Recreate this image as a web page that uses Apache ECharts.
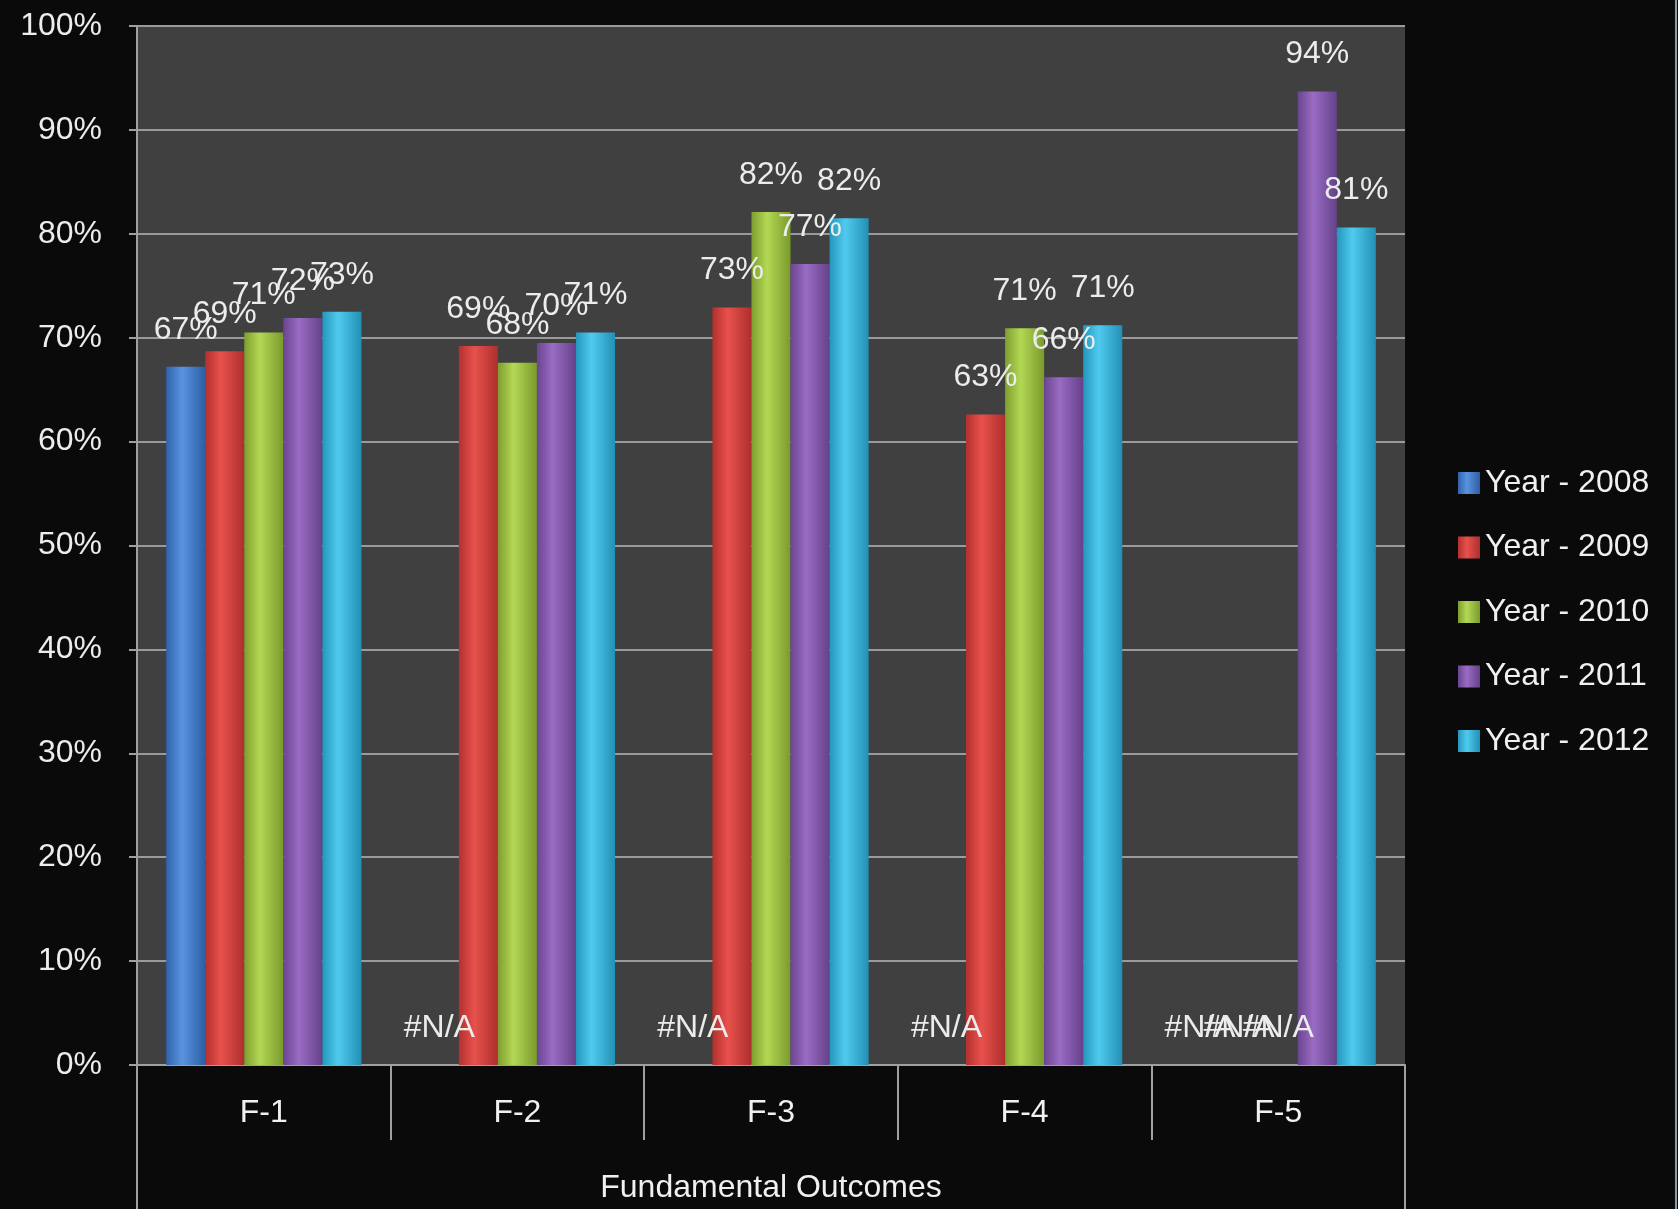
<!DOCTYPE html>
<html>
<head>
<meta charset="utf-8">
<style>
  html, body { margin: 0; padding: 0; background: #0a0a0a; }
  #chart { width: 1678px; height: 1209px; }
</style>
<script src="https://cdn.jsdelivr.net/npm/echarts@6/dist/echarts.min.js"></script>
</head>
<body>
<div id="chart"></div>
<script>
const categories = ['F-1', 'F-2', 'F-3', 'F-4', 'F-5'];
const seriesNames = ['Year - 2008', 'Year - 2009', 'Year - 2010', 'Year - 2011', 'Year - 2012'];
const year2008 = [67.2, null, null, null, null];
const year2009 = [68.7, 69.2, 72.9, 62.6, null];
const year2010 = [70.5, 67.6, 82.1, 70.9, null];
const year2011 = [71.9, 69.5, 77.1, 66.2, 93.7];
const year2012 = [72.5, 70.5, 81.5, 71.2, 80.6];
const yTicks = [0, 10, 20, 30, 40, 50, 60, 70, 80, 90, 100];
const naLabel = '#N/A';

const seriesValues = [year2008, year2009, year2010, year2011, year2012];
const palettes = [
  ['#2f62a8', '#5b93e0', '#2c5fa3'],
  ['#b3302e', '#e8514c', '#ad2f2d'],
  ['#7f9e2e', '#b3d855', '#7a9a2c'],
  ['#6a4590', '#9a6cc4', '#65418a'],
  ['#2596bb', '#4fcbef', '#2290b4']
];
const FONT = 'Liberation Sans, Arial, sans-serif';

const chart = echarts.init(document.getElementById('chart'));

const series = seriesValues.map((vals, i) => ({
  name: seriesNames[i],
  type: 'bar',
  barGap: '0%',
  barCategoryGap: '23%',
  itemStyle: {
    color: new echarts.graphic.LinearGradient(0, 0, 1, 0, [
      { offset: 0, color: palettes[i][0] },
      { offset: 0.4, color: palettes[i][1] },
      { offset: 1, color: palettes[i][2] }
    ])
  },
  label: {
    show: true,
    position: 'top',
    distance: 21,
    color: '#ececec',
    fontSize: 32,
    fontFamily: FONT,
    formatter: p => (p.data && p.data.na) ? naLabel : Math.round(p.value) + '%'
  },
  data: vals.map(v => v === null ? { value: 0, na: true } : v)
}));

chart.setOption({
  backgroundColor: '#0a0a0a',
  animation: false,
  textStyle: { fontFamily: FONT },
  grid: {
    left: 137, right: 273, top: 26, bottom: 144,
    show: true, backgroundColor: '#404040', borderWidth: 0
  },
  legend: {
    orient: 'vertical',
    left: 1453,
    top: 460,
    itemWidth: 22,
    itemHeight: 22,
    itemGap: 28.5,
    icon: 'rect',
    textStyle: { color: '#f0f0f0', fontSize: 32, lineHeight: 36, fontFamily: FONT },
    data: seriesNames
  },
  xAxis: {
    type: 'category',
    data: categories,
    name: 'Fundamental Outcomes',
    nameLocation: 'middle',
    nameGap: 107,
    nameTextStyle: { color: '#f0f0f0', fontSize: 32, fontFamily: FONT },
    axisLine: { lineStyle: { color: '#a0a0a0', width: 2 } },
    axisTick: { show: true, length: 75, lineStyle: { color: '#a0a0a0', width: 2 } },
    axisLabel: { color: '#f0f0f0', fontSize: 32, margin: 32, fontFamily: FONT },
    splitLine: { show: false }
  },
  yAxis: {
    type: 'value',
    min: yTicks[0],
    max: yTicks[yTicks.length - 1],
    interval: 10,
    axisLine: { show: true, lineStyle: { color: '#a0a0a0', width: 2 } },
    axisTick: { show: true, length: 8, lineStyle: { color: '#a0a0a0', width: 2 } },
    axisLabel: { color: '#ececec', fontSize: 32, margin: 35, fontFamily: FONT, formatter: '{value}%' },
    splitLine: { show: true, lineStyle: { color: '#9a9a9a', width: 2 } }
  },
  series: series,
  graphic: [
    { type: 'line', shape: { x1: 137, y1: 1065, x2: 137, y2: 1209 }, style: { stroke: '#a0a0a0', lineWidth: 2 } },
    { type: 'line', shape: { x1: 1405, y1: 1065, x2: 1405, y2: 1209 }, style: { stroke: '#a0a0a0', lineWidth: 2 } },
    { type: 'line', shape: { x1: 1676, y1: 0, x2: 1676, y2: 1209 }, style: { stroke: '#8a98a8', lineWidth: 2 } }
  ]
});
</script>
</body>
</html>
